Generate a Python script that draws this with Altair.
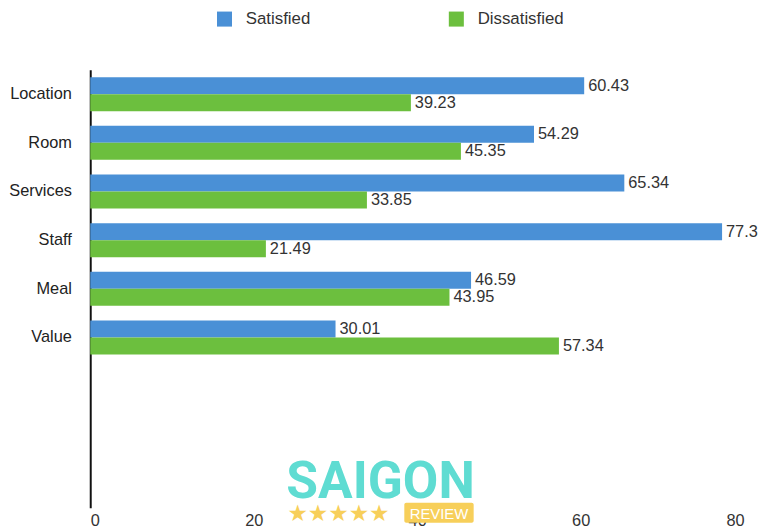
import altair as alt
import pandas as pd

categories = ["Location", "Room", "Services", "Staff", "Meal", "Value"]
satisfied = [60.43, 54.29, 65.34, 77.3, 46.59, 30.01]
dissatisfied = [39.23, 45.35, 33.85, 21.49, 43.95, 57.34]
series = ["Satisfied", "Dissatisfied"]
colors = ["#4a90d6", "#6cbf3e"]
x_ticks = [0, 20, 40, 60, 80]
# empty bands below the data, as in the reference
y_domain = categories + ["", " ", "  "]

rows = []
for c, s, d in zip(categories, satisfied, dissatisfied):
    rows.append({"category": c, "series": "Satisfied", "value": s, "label": f"{s:g}"})
    rows.append({"category": c, "series": "Dissatisfied", "value": d, "label": f"{d:g}"})
df = pd.DataFrame(rows)

FONT = "Liberation Sans"
FS = 16.5

y_scale = alt.Scale(domain=y_domain, paddingInner=0.3, paddingOuter=0.15)
y_enc = alt.Y("category:N", scale=y_scale,
              axis=alt.Axis(title=None, ticks=False, domain=True, domainColor="#111", domainWidth=2,
                            labelFontSize=FS, labelColor="#222", labelFont=FONT, labelPadding=19))
x_enc = alt.X("value:Q", scale=alt.Scale(domain=[0, 80], nice=False),
              axis=alt.Axis(title=None, values=x_ticks, grid=False, domain=False, ticks=False,
                            labelFontSize=FS, labelColor="#333", labelFont=FONT, labelPadding=5))
yoff = alt.YOffset("series:N", sort=series, scale=alt.Scale(domain=series, paddingInner=0, paddingOuter=0))
color_enc = alt.Color("series:N", sort=series,
                      scale=alt.Scale(domain=series, range=colors),
                      legend=alt.Legend(title=None, orient="none", direction="horizontal",
                                        legendX=127, legendY=-60, symbolType="square",
                                        symbolSize=230, symbolStrokeWidth=0, symbolOpacity=1,
                                        labelFontSize=17, labelColor="#333", labelFont=FONT,
                                        columnPadding=138, labelOffset=13))

bars = alt.Chart(df).mark_bar(opacity=1).encode(y=y_enc, x=x_enc, yOffset=yoff, color=color_enc)
labels = alt.Chart(df).mark_text(align="left", baseline="middle", dx=4, fontSize=FS,
                                 color="#333", font=FONT).encode(
    y=alt.Y("category:N", scale=y_scale),
    x=alt.X("value:Q"), yOffset=yoff, text="label:N")

wm = pd.DataFrame({"t": ["SAIGON"]})
saigon = alt.Chart(wm).mark_text(fontSize=52, fontWeight="bold", color="#5fdcd2", font="Roboto",
                                 align="center", baseline="alphabetic").encode(
    x=alt.value(293), y=alt.value(432), text="t:N")
review_box = alt.Chart(wm).mark_rect(color="#f7cf5a", cornerRadius=2).encode(
    x=alt.value(317), x2=alt.value(387), y=alt.value(437), y2=alt.value(457))
review = alt.Chart(wm).mark_text(fontSize=15, color="white", font=FONT, align="center",
                                 baseline="middle").encode(
    x=alt.value(352), y=alt.value(448), text=alt.value("REVIEW"))
stars = alt.Chart(wm).mark_text(fontSize=23, color="#f7cf5a", font="DejaVu Sans", align="left",
                                baseline="middle").encode(
    x=alt.value(199), y=alt.value(448), text=alt.value("★★★★★"))

chart = alt.layer(bars, labels, saigon, review_box, review, stars).properties(
    width=660, height=442,
    autosize=alt.AutoSizeParams(type="none"),
    padding={"left": 83, "top": 60, "right": 16, "bottom": 20},
    background="white",
).configure_view(stroke=None)

chart.save("out.html", embed_options={"renderer": "svg", "actions": False})
